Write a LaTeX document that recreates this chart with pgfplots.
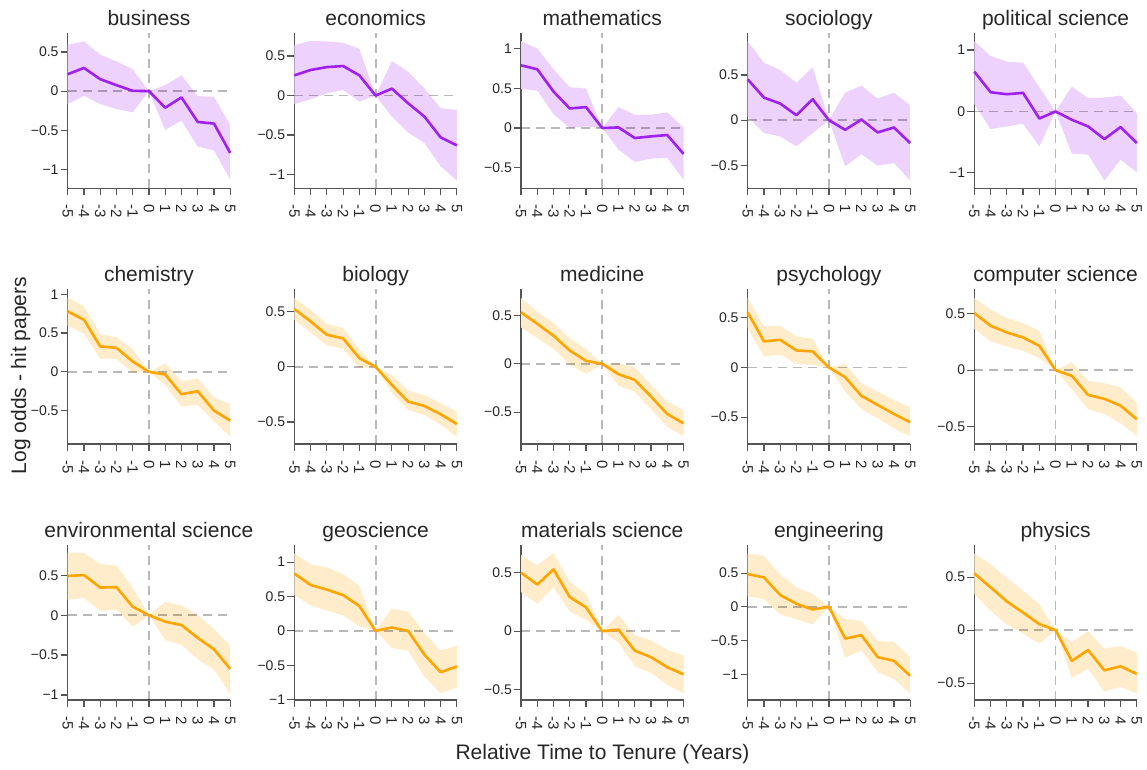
\documentclass[border=0pt]{standalone}
\usepackage{fontspec}
\setmainfont{Liberation Sans}
\usepackage{pgfplots}
\usepackage{pgfplotstable}
\pgfplotsset{compat=1.18}
\definecolor{Pline}{RGB}{160,32,240}
\definecolor{Pfill}{RGB}{236,210,252}
\definecolor{Oline}{RGB}{255,165,0}
\definecolor{Ofill}{RGB}{255,236,202}
\definecolor{axisgray}{RGB}{85,85,85}
\definecolor{textcol}{RGB}{38,38,38}
\newcommand\ticksize{\fontsize{14}{16}\selectfont}
\newcommand\xticksize{\fontsize{15}{17}\selectfont}
\newcommand\titlesize{\fontsize{21}{25}\selectfont}

\pgfplotstableread{
x m hi lo
-5 0.216 0.593 -0.165
-4 0.297 0.636 -0.059
-3 0.153 0.466 -0.165
-2 0.076 0.38 -0.229
-1 0.004 0.28 -0.271
0 0 0 0
1 -0.212 0.076 -0.496
2 -0.08 0.203 -0.377
3 -0.394 -0.064 -0.708
4 -0.415 -0.072 -0.758
5 -0.79 -0.432 -1.131
}\tbus
\pgfplotstableread{
x m hi lo
-5 0.256 0.639 -0.109
-4 0.324 0.693 -0.046
-3 0.361 0.685 0.029
-2 0.374 0.668 0.071
-1 0.256 0.592 -0.076
0 0 0 0
1 0.088 0.437 -0.265
2 -0.097 0.303 -0.466
3 -0.265 0.092 -0.6
4 -0.529 -0.16 -0.895
5 -0.63 -0.18 -1.076
}\teco
\pgfplotstableread{
x m hi lo
-5 0.791 1.096 0.49
-4 0.741 1.004 0.473
-3 0.46 0.741 0.176
-2 0.247 0.515 0.0
-1 0.264 0.498 0.021
0 0 0 0
1 0.008 0.264 -0.272
2 -0.126 0.167 -0.427
3 -0.105 0.167 -0.385
4 -0.088 0.197 -0.377
5 -0.326 0.008 -0.649
}\tmat
\pgfplotstableread{
x m hi lo
-5 0.452 0.875 0.04
-4 0.25 0.636 -0.143
-3 0.184 0.555 -0.18
-2 0.055 0.415 -0.29
-1 0.232 0.585 -0.143
0 0 0 0
1 -0.107 0.305 -0.511
2 0.007 0.382 -0.375
3 -0.136 0.239 -0.504
4 -0.081 0.305 -0.474
5 -0.254 0.165 -0.669
}\tsoc
\pgfplotstableread{
x m hi lo
-5 0.649 1.146 0.124
-4 0.314 0.903 -0.286
-3 0.281 0.811 -0.243
-2 0.303 0.795 -0.2
-1 -0.114 0.395 -0.568
0 0 0 0
1 -0.135 0.405 -0.686
2 -0.243 0.216 -0.703
3 -0.449 0.227 -1.124
4 -0.254 0.259 -0.784
5 -0.514 -0.027 -0.989
}\tpol
\pgfplotstableread{
x m hi lo
-5 0.78 0.961 0.595
-4 0.672 0.845 0.491
-3 0.328 0.487 0.172
-2 0.31 0.448 0.168
-1 0.134 0.293 -0.009
0 0 0 0
1 -0.034 0.112 -0.168
2 -0.289 -0.125 -0.448
3 -0.25 -0.082 -0.427
4 -0.5 -0.328 -0.642
5 -0.629 -0.414 -0.836
}\tche
\pgfplotstableread{
x m hi lo
-5 0.524 0.624 0.427
-4 0.412 0.518 0.312
-3 0.291 0.391 0.194
-2 0.258 0.352 0.164
-1 0.079 0.158 -0.012
0 0 0 0
1 -0.164 -0.073 -0.239
2 -0.315 -0.215 -0.391
3 -0.355 -0.258 -0.436
4 -0.43 -0.33 -0.527
5 -0.518 -0.406 -0.633
}\tbio
\pgfplotstableread{
x m hi lo
-5 0.533 0.682 0.377
-4 0.415 0.543 0.266
-3 0.291 0.422 0.156
-2 0.138 0.266 -0.01
-1 0.031 0.152 -0.104
0 0 0 0
1 -0.107 0.007 -0.228
2 -0.166 -0.035 -0.287
3 -0.339 -0.218 -0.471
4 -0.519 -0.391 -0.651
5 -0.616 -0.478 -0.754
}\tmed
\pgfplotstableread{
x m hi lo
-5 0.556 0.7 0.397
-4 0.263 0.414 0.111
-3 0.279 0.421 0.128
-2 0.172 0.313 0.037
-1 0.162 0.29 0.027
0 0 0 0
1 -0.098 0.034 -0.242
2 -0.286 -0.158 -0.421
3 -0.377 -0.242 -0.512
4 -0.468 -0.327 -0.613
5 -0.552 -0.4 -0.697
}\tpsy
\pgfplotstableread{
x m hi lo
-5 0.506 0.639 0.367
-4 0.393 0.536 0.254
-3 0.334 0.462 0.21
-2 0.29 0.417 0.172
-1 0.216 0.349 0.107
0 0 0 0
1 -0.05 0.071 -0.169
2 -0.219 -0.095 -0.346
3 -0.254 -0.115 -0.388
4 -0.314 -0.151 -0.47
5 -0.435 -0.287 -0.583
}\tcom
\pgfplotstableread{
x m hi lo
-5 0.492 0.784 0.195
-4 0.504 0.784 0.216
-3 0.347 0.64 0.055
-2 0.352 0.627 0.068
-1 0.106 0.343 -0.144
0 0 0 0
1 -0.081 0.165 -0.314
2 -0.123 0.123 -0.369
3 -0.284 0.004 -0.555
4 -0.428 -0.174 -0.682
5 -0.674 -0.377 -0.992
}\tenv
\pgfplotstableread{
x m hi lo
-5 0.834 1.127 0.522
-4 0.668 0.971 0.371
-3 0.6 0.922 0.298
-2 0.522 0.824 0.224
-1 0.361 0.654 0.068
0 0 0 0
1 0.049 0.327 -0.249
2 0 0.278 -0.288
3 -0.346 -0.029 -0.663
4 -0.6 -0.283 -0.907
5 -0.517 -0.215 -0.824
}\tgeo
\pgfplotstableread{
x m hi lo
-5 0.499 0.651 0.334
-4 0.398 0.562 0.233
-3 0.527 0.666 0.375
-2 0.291 0.421 0.167
-1 0.202 0.317 0.095
0 0 0 0
1 0.012 0.138 -0.098
2 -0.167 -0.035 -0.3
3 -0.222 -0.078 -0.357
4 -0.308 -0.159 -0.458
5 -0.369 -0.207 -0.533
}\tmts
\pgfplotstableread{
x m hi lo
-5 0.486 0.792 0.155
-4 0.436 0.757 0.115
-3 0.175 0.481 -0.11
-2 0.045 0.291 -0.185
-1 -0.04 0.19 -0.261
0 0 0 0
1 -0.471 -0.18 -0.757
2 -0.421 -0.21 -0.647
3 -0.747 -0.506 -0.972
4 -0.802 -0.521 -1.073
5 -1.023 -0.747 -1.288
}\teng
\pgfplotstableread{
x m hi lo
-5 0.535 0.723 0.341
-4 0.404 0.621 0.182
-3 0.271 0.494 0.054
-2 0.166 0.373 -0.032
-1 0.057 0.245 -0.127
0 0 0 0
1 -0.29 -0.111 -0.452
2 -0.188 -0.01 -0.366
3 -0.379 -0.175 -0.58
4 -0.341 -0.15 -0.535
5 -0.414 -0.213 -0.599
}\tphy

\pgfplotsset{
  panel/.style={
    scale only axis, width=162.5pt, height=155pt, anchor=south west,
    xmin=-5, xmax=5, xtick={-5,-4,...,5},
    xticklabels={-5,-4,-3,-2,-1,0,1,2,3,4,5},
    axis x line*=bottom, axis y line*=left,
    axis line style={draw=axisgray, line width=1.3pt, -},
    tick align=outside, major tick length=7pt,
    tick style={draw=axisgray, line width=1.2pt},
    xticklabel style={rotate=-90, anchor=west, font=\xticksize, text=textcol, inner xsep=9pt, inner ysep=2pt},
    yticklabel style={font=\ticksize, text=textcol, inner sep=2pt},
    title style={font=\titlesize, text=textcol, anchor=base, yshift=1.5pt},
    clip=false,
  },
  refline/.style={draw=black, opacity=0.28, line width=1.8pt, dash pattern=on 9pt off 6pt},
}

% #1 x, #2 y, #3 title, #4 ymin, #5 ymax, #6 ytick, #7 yticklabels, #8 table, #9 colour prefix
\newcommand{\panel}[9]{%
\begin{axis}[panel, at={(#1pt,#2pt)}, title={#3}, ymin=#4, ymax=#5, ytick={#6}, yticklabels={#7}]
\addplot[draw=none, stack plots=y] table[x=x, y=lo] {#8};
\addplot[fill=#9fill, draw=none, stack plots=y] table[x=x, y expr=\thisrow{hi}-\thisrow{lo}] {#8} \closedcycle;
\addplot[refline, stack plots=false] coordinates {(-5,0) (5,0)};
\addplot[refline, stack plots=false] coordinates {(0,#4) (0,#5)};
\addplot[#9line, line width=2.6pt, line join=round, stack plots=false] table[x=x, y=m] {#8};
\end{axis}}

\begin{document}
\begin{tikzpicture}
\path[use as bounding box] (0,0) rectangle (1147pt,769pt);
% row 1
\panel{67.7}{580.5}{business}{-1.245}{0.737}{-1,-0.5,0,0.5}{−1,−0.5,0,0.5}{\tbus}{P}
\panel{294.35}{580.5}{economics}{-1.176}{0.786}{-1,-0.5,0,0.5}{−1,−0.5,0,0.5}{\teco}{P}
\panel{521.0}{580.5}{mathematics}{-0.762}{1.192}{-0.5,0,0.5,1}{−0.5,0,0.5,1}{\tmat}{P}
\panel{747.65}{580.5}{sociology}{-0.757}{0.96}{-0.5,0,0.5}{−0.5,0,0.5}{\tsoc}{P}
\panel{974.3}{580.5}{political science}{-1.254}{1.27}{-1,0,1}{−1,0,1}{\tpol}{P}
% row 2
\panel{67.7}{325}{chemistry}{-0.931}{1.069}{-0.5,0,0.5,1}{−0.5,0,0.5,1}{\tche}{O}
\panel{294.35}{325}{biology}{-0.70}{0.706}{-0.5,0,0.5}{−0.5,0,0.5}{\tbio}{O}
\panel{521.0}{325}{medicine}{-0.83}{0.775}{-0.5,0,0.5}{−0.5,0,0.5}{\tmed}{O}
\panel{747.65}{325}{psychology}{-0.771}{0.791}{-0.5,0,0.5}{−0.5,0,0.5}{\tpsy}{O}
\panel{974.3}{325}{computer science}{-0.654}{0.719}{-0.5,0,0.5}{−0.5,0,0.5}{\tcom}{O}
% row 3
\panel{67.7}{69}{environmental science}{-1.064}{0.881}{-1,-0.5,0,0.5}{−1,−0.5,0,0.5}{\tenv}{O}
\panel{294.35}{69}{geoscience}{-1.005}{1.249}{-1,-0.5,0,0.5,1}{−1,−0.5,0,0.5,1}{\tgeo}{O}
\panel{521.0}{69}{materials science}{-0.588}{0.735}{-0.5,0,0.5}{−0.5,0,0.5}{\tmts}{O}
\panel{747.65}{69}{engineering}{-1.383}{0.917}{-1,-0.5,0,0.5}{−1,−0.5,0,0.5}{\teng}{O}
\panel{974.3}{69}{physics}{-0.659}{0.803}{-0.5,0,0.5}{−0.5,0,0.5}{\tphy}{O}
\node[rotate=90, anchor=base, font=\titlesize, text=textcol] at (26pt,393.5pt) {Log odds - hit papers};
\node[anchor=base, font=\titlesize, text=textcol] at (602.4pt,10pt) {Relative Time to Tenure (Years)};
\end{tikzpicture}
\end{document}
